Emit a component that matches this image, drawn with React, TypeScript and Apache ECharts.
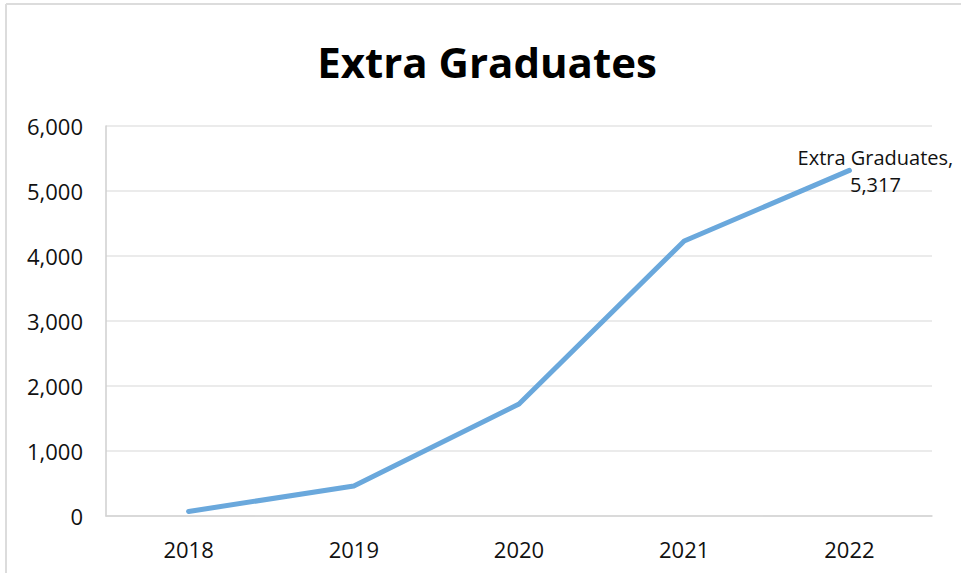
import React, { useEffect, useRef } from "react";
import * as echarts from "echarts";

const categories = ["2018", "2019", "2020", "2021", "2022"];
const seriesName = "Extra Graduates";
const values = [70, 462, 1723, 4231, 5317];
const yTicks = { min: 0, max: 6000, interval: 1000 };

const fmt = (v: number) => v.toLocaleString("en-US");

export default function App() {
  const ref = useRef<HTMLDivElement>(null);
  useEffect(() => {
    if (!ref.current) return;
    const chart = echarts.init(ref.current, null, { renderer: "svg" });
    const font = "'Open Sans', 'Noto Sans', sans-serif";
    chart.setOption({
      animation: false,
      backgroundColor: "#ffffff",
      title: {
        text: seriesName,
        left: 482,
        top: 35,
        textAlign: "center",
        textStyle: { fontFamily: font, fontWeight: "bold", fontSize: 42, color: "#000" },
      },
      graphic: [
        { type: "line", shape: { x1: 6, y1: 4, x2: 961, y2: 4 }, style: { stroke: "#dcdcdc", lineWidth: 2 } },
        { type: "line", shape: { x1: 6, y1: 4, x2: 6, y2: 573 }, style: { stroke: "#dcdcdc", lineWidth: 2 } },
      ],
      grid: { left: 106, right: 29, top: 126, bottom: 57, containLabel: false },
      xAxis: {
        type: "category",
        data: categories,
        boundaryGap: true,
        axisLine: { lineStyle: { color: "#d4d4d4", width: 1.5 } },
        axisTick: { show: false },
        axisLabel: { fontFamily: font, fontSize: 22, color: "#111", margin: 22 },
      },
      yAxis: {
        type: "value",
        min: yTicks.min,
        max: yTicks.max,
        interval: yTicks.interval,
        axisLine: { show: true, lineStyle: { color: "#cfcfcf", width: 1.5 } },
        axisTick: { show: false },
        splitLine: { lineStyle: { color: "#e4e4e4", width: 1.5 } },
        axisLabel: { fontFamily: font, fontSize: 22, color: "#111", margin: 23, formatter: (v: number) => fmt(v) },
      },
      series: [
        {
          name: seriesName,
          type: "line",
          showSymbol: true,
          symbol: "circle",
          symbolSize: 4,
          itemStyle: { color: "#6aa8dc" },
          lineStyle: { color: "#6aa8dc", width: 5, cap: "round", join: "round" },
          label: { show: false },
          data: values.map((v, i) =>
            i === values.length - 1
              ? {
                  value: v,
                  label: {
                    show: true,
                    position: "inside",
                    offset: [26, 1],
                    align: "center",
                    verticalAlign: "middle",
                    lineHeight: 27,
                    fontFamily: font,
                    fontSize: 20,
                    color: "#111",
                    formatter: (p: any) => `${p.seriesName},\n${fmt(p.value)}`,
                  },
                }
              : v
          ),
        },
      ],
    });
    return () => chart.dispose();
  }, []);
  return <div ref={ref} style={{ position: "fixed", left: 0, top: 0, width: 961, height: 573 }} />;
}
